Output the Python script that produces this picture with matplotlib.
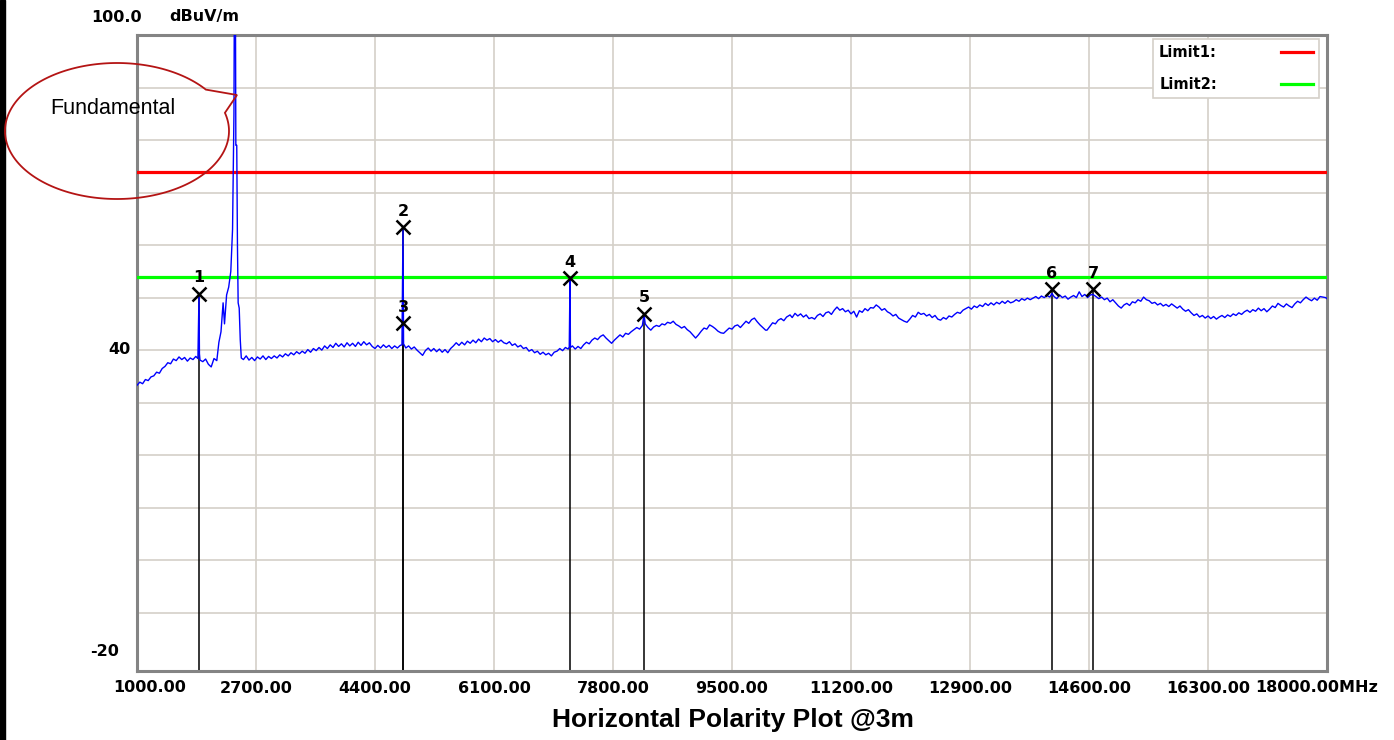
import numpy as np
import matplotlib
matplotlib.use('Agg')
import matplotlib.pyplot as plt
from matplotlib.patches import Polygon, Rectangle

# ---- data ----
limit1 = 74.0
limit2 = 54.0

trace_freq = [
    1000, 1040, 1080, 1120, 1160, 1200, 1240, 1280, 1320, 1360, 1400, 1440, 1480, 1520, 1560, 1600,
    1640, 1680, 1720, 1760, 1800, 1840, 1870, 1880, 1886, 1892, 1900, 1940, 1980, 2020, 2060, 2100,
    2140, 2170, 2200, 2230, 2250, 2280, 2310, 2340, 2365, 2385, 2392, 2405, 2412, 2425, 2435, 2445,
    2460, 2475, 2490, 2520, 2560, 2600, 2640, 2680, 2720, 2760, 2800, 2840, 2880, 2920, 2960, 3000,
    3040, 3080, 3120, 3160, 3200, 3240, 3280, 3320, 3360, 3400, 3440, 3480, 3520, 3560, 3600, 3640,
    3680, 3720, 3760, 3800, 3840, 3880, 3920, 3960, 4000, 4040, 4080, 4120, 4160, 4200, 4240, 4280,
    4320, 4360, 4400, 4440, 4480, 4520, 4560, 4600, 4640, 4680, 4720, 4760, 4785, 4792, 4800, 4808,
    4840, 4880, 4920, 4960, 5000, 5040, 5080, 5120, 5160, 5200, 5240, 5280, 5320, 5360, 5400, 5440,
    5480, 5520, 5560, 5600, 5640, 5680, 5720, 5760, 5800, 5840, 5880, 5920, 5960, 6000, 6040, 6080,
    6120, 6160, 6200, 6240, 6280, 6320, 6360, 6400, 6440, 6480, 6520, 6560, 6600, 6640, 6680, 6720,
    6760, 6800, 6840, 6880, 6920, 6960, 7000, 7040, 7080, 7120, 7160, 7175, 7180, 7186, 7192, 7220,
    7260, 7300, 7340, 7380, 7420, 7460, 7500, 7540, 7580, 7620, 7660, 7700, 7740, 7780, 7820, 7860,
    7900, 7940, 7980, 8020, 8060, 8100, 8140, 8180, 8220, 8243, 8260, 8300, 8340, 8380, 8420, 8460,
    8500, 8540, 8580, 8620, 8660, 8700, 8740, 8780, 8820, 8860, 8900, 8940, 8980, 9020, 9060, 9100,
    9140, 9180, 9220, 9260, 9300, 9340, 9380, 9420, 9460, 9500, 9540, 9580, 9620, 9660, 9700, 9740,
    9780, 9820, 9860, 9900, 9940, 9980, 10000, 10040, 10080, 10120, 10160, 10200, 10240, 10280, 10329, 10360,
    10400, 10440, 10480, 10520, 10560, 10600, 10640, 10680, 10720, 10760, 10800, 10840, 10880, 10920, 10960, 11000,
    11040, 11080, 11120, 11160, 11200, 11240, 11280, 11320, 11360, 11400, 11440, 11480, 11520, 11560, 11600, 11640,
    11680, 11720, 11760, 11800, 11840, 11880, 11920, 11960, 12000, 12040, 12080, 12120, 12160, 12200, 12240, 12280,
    12320, 12360, 12400, 12440, 12480, 12520, 12560, 12600, 12640, 12680, 12720, 12760, 12800, 12840, 12880, 12920,
    12960, 13000, 13040, 13080, 13120, 13160, 13200, 13240, 13280, 13320, 13360, 13400, 13440, 13480, 13520, 13560,
    13600, 13640, 13680, 13720, 13760, 13800, 13840, 13880, 13920, 13960, 14000, 14040, 14071, 14100, 14140, 14180,
    14220, 14260, 14300, 14340, 14380, 14420, 14460, 14500, 14540, 14580, 14620, 14657, 14700, 14740, 14780, 14820,
    14860, 14900, 14940, 14980, 15020, 15060, 15100, 15140, 15180, 15220, 15260, 15300, 15340, 15380, 15420, 15460,
    15500, 15540, 15580, 15620, 15660, 15700, 15740, 15780, 15820, 15860, 15900, 15940, 15980, 16020, 16060, 16100,
    16140, 16180, 16220, 16260, 16300, 16340, 16380, 16420, 16460, 16500, 16540, 16580, 16620, 16660, 16700, 16740,
    16780, 16820, 16860, 16900, 16940, 16980, 17020, 17060, 17100, 17140, 17180, 17220, 17260, 17300, 17340, 17380,
    17420, 17460, 17500, 17540, 17580, 17620, 17660, 17700, 17740, 17780, 17820, 17860, 17900, 17940, 17980, 18000,
]
trace_level = [
    33.3, 33.9, 33.6, 34.4, 34.2, 34.9, 35.1, 35.8, 35.6, 36.5, 36.9, 37.6, 37.4, 38.3, 38.0, 38.7,
    38.2, 38.6, 37.9, 38.5, 38.2, 38.8, 38.4, 46.0, 50.7, 39.3, 38.1, 37.8, 38.3, 37.3, 36.8, 38.4,
    38.0, 41.5, 43.5, 49.0, 45.0, 50.5, 52.0, 55.0, 63.0, 85.0, 112.0, 112.0, 79.0, 79.0, 60.0, 49.0,
    48.0, 42.0, 38.5, 38.2, 38.9, 38.1, 38.6, 38.0, 38.7, 38.3, 38.9, 38.2, 38.8, 38.4, 38.9, 38.5,
    39.1, 38.7, 39.3, 38.9, 39.5, 39.1, 39.7, 39.3, 39.8, 39.4, 40.1, 39.6, 40.3, 39.9, 40.5, 40.0,
    40.8, 40.3, 41.0, 40.5, 41.3, 40.7, 41.2, 40.6, 41.4, 40.8, 41.3, 40.7, 41.5, 40.9, 41.6, 41.0,
    41.4, 40.7, 40.3, 40.9, 40.4, 41.0, 40.5, 40.9, 40.3, 40.8, 40.4, 40.9, 41.0, 52.5, 63.4, 41.2,
    40.4, 40.8, 40.2, 40.6, 40.0, 39.5, 39.0, 39.9, 40.4, 39.8, 40.3, 39.7, 40.2, 39.6, 40.1, 39.5,
    40.3, 40.8, 41.4, 40.9, 41.5, 41.0, 41.7, 41.3, 41.9, 41.4, 42.1, 41.6, 42.3, 41.9, 42.2, 41.6,
    42.0, 41.5, 41.9, 41.4, 41.2, 41.6, 40.9, 41.2, 40.6, 40.9, 40.3, 40.5, 39.8, 40.1, 39.5, 39.8,
    39.2, 39.6, 39.1, 39.4, 38.9, 39.6, 39.8, 40.3, 39.9, 40.5, 40.2, 40.6, 46.8, 53.7, 40.5, 40.8,
    40.2, 40.7, 40.3, 41.0, 41.5, 41.2, 41.9, 42.3, 42.0, 42.6, 42.9, 42.3, 41.8, 41.3, 41.9, 42.4,
    42.9, 42.5, 43.2, 43.0, 43.5, 43.9, 44.3, 44.0, 44.7, 46.9, 45.0, 44.3, 43.8, 44.4, 44.7, 44.5,
    45.0, 44.8, 45.3, 45.1, 45.5, 44.9, 44.6, 44.2, 44.5, 43.9, 43.5, 42.9, 42.3, 42.9, 43.6, 44.2,
    44.0, 44.8, 44.5, 44.1, 43.6, 43.3, 43.2, 43.7, 44.2, 44.0, 44.6, 44.8, 44.3, 44.9, 45.5, 45.1,
    45.8, 46.1, 45.4, 44.8, 44.3, 43.8, 43.8, 44.5, 45.2, 45.0, 45.7, 46.0, 45.6, 46.3, 46.7, 46.2,
    47.0, 46.5, 46.9, 46.3, 46.7, 46.0, 46.2, 45.9, 46.6, 46.9, 46.4, 47.1, 47.3, 46.8, 47.6, 48.2,
    47.6, 47.9, 47.3, 47.6, 46.9, 47.4, 46.3, 47.5, 47.2, 47.9, 47.5, 48.1, 48.0, 48.6, 48.2, 47.6,
    47.9, 47.3, 47.0, 46.5, 46.8, 46.1, 45.8, 45.5, 45.3, 45.9, 46.6, 46.3, 47.2, 46.8, 47.0, 46.5,
    46.8, 46.2, 46.6, 45.9, 45.7, 46.2, 45.9, 46.5, 46.3, 46.8, 47.2, 47.0, 47.6, 47.9, 48.2, 47.8,
    48.4, 48.1, 48.6, 48.3, 48.9, 48.5, 49.0, 48.6, 49.1, 48.8, 49.3, 48.9, 49.4, 49.0, 49.2, 49.6,
    49.3, 49.8, 49.5, 49.9, 49.6, 49.9, 50.2, 49.8, 50.3, 50.0, 50.4, 50.1, 50.8, 50.2, 49.8, 50.5,
    50.0, 50.3, 49.7, 50.1, 50.4, 50.0, 51.1, 50.2, 50.6, 50.0, 50.5, 50.6, 50.2, 49.8, 50.1, 49.6,
    49.9, 49.2, 49.6, 49.0, 48.4, 48.0, 48.6, 48.9, 48.5, 49.2, 49.0, 49.6, 49.3, 50.1, 49.6, 49.4,
    48.9, 49.1, 48.6, 48.9, 48.4, 48.7, 48.3, 48.8, 48.4, 48.0, 48.4, 47.8, 47.4, 47.7, 47.1, 46.6,
    46.9, 46.3, 46.6, 46.1, 46.5, 46.0, 46.4, 45.9, 46.3, 46.6, 46.2, 46.7, 46.4, 46.9, 46.6, 47.1,
    46.8, 47.3, 47.6, 47.2, 47.7, 47.4, 48.0, 47.5, 47.9, 47.3, 47.8, 48.4, 48.1, 48.9, 48.5, 48.2,
    48.8, 48.4, 48.1, 48.8, 49.3, 49.0, 49.6, 50.1, 49.7, 49.4, 49.9, 49.5, 50.2, 50.1, 50.0, 49.8,
]

mk_freq = [1886, 4800, 4800, 7186, 8243, 14071, 14657]
mk_level = [50.7, 63.4, 45.1, 53.7, 46.9, 51.6, 51.6]
mk_label = ['1', '2', '3', '4', '5', '6', '7']

x_ticks = [1000, 2700, 4400, 6100, 7800, 9500, 11200, 12900, 14600, 16300, 18000]
x_ticklabels = ['', '2700.00', '4400.00', '6100.00', '7800.00', '9500.00',
                '11200.00', '12900.00', '14600.00', '16300.00', '']
y_grid = [-10, 0, 10, 20, 30, 40, 50, 60, 70, 80, 90, 100]

W, H = 1394, 740
fig = plt.figure(figsize=(W / 100, H / 100), dpi=100)
fig.patch.set_facecolor('white')

# main plot area (pixel box 137..1327 x 35..671)
ax = fig.add_axes([137 / W, 1 - 671 / H, 1190 / W, 636 / H])
ax.set_xlim(1000, 18000)
ax.set_ylim(-21.1, 100)
ax.set_xticks(x_ticks)
ax.set_xticklabels(x_ticklabels, fontsize=11.5, fontweight='bold')
ax.set_yticks(y_grid)
ax.set_yticklabels([])
ax.tick_params(length=0, pad=7)
ax.grid(True, color='#D4D0C8', linewidth=1.2)
ax.set_axisbelow(True)
for s in ax.spines.values():
    s.set_color('#848484')
    s.set_linewidth(2.2)

ax.axhline(limit1, color='#FF0000', linewidth=2.3, label='Limit1:', zorder=3)
ax.axhline(limit2, color='#00FF00', linewidth=2.3, label='Limit2:', zorder=3)

# marker stems
for f, lv in zip(mk_freq, mk_level):
    ax.plot([f, f], [-21.1, lv], color='black', linewidth=1.1, zorder=2)

ax.plot(trace_freq, trace_level, color='#0000FF', linewidth=1.0, zorder=4)

ax.plot(mk_freq, mk_level, linestyle='none', marker='x', color='black',
        markersize=9.5, markeredgewidth=1.8, zorder=5)
for f, lv, lb in zip(mk_freq, mk_level, mk_label):
    ax.annotate(lb, (f, lv), xytext=(0, 11.5), textcoords='offset points',
                ha='center', va='center', fontsize=11.5, fontweight='bold', zorder=6)

leg = ax.legend(loc='upper right', bbox_to_anchor=(1319 / W, 1 - 39 / H),
                bbox_transform=fig.transFigure, borderaxespad=0, markerfirst=False,
                fancybox=False, framealpha=1, edgecolor='#D4D0C8',
                prop={'weight': 'bold', 'size': 10.5}, handlelength=2.2,
                handletextpad=4.4, labelspacing=1.2, borderpad=0.4)
leg.get_frame().set_linewidth(1.2)

# overlay in figure pixels for the text labels and the callout
ov = fig.add_axes([0, 0, 1, 1])
ov.set_xlim(0, W)
ov.set_ylim(H, 0)
ov.axis('off')
ov.patch.set_alpha(0)

ov.add_patch(Rectangle((0, 0), 5, H, color='black'))

bold = dict(fontsize=11.5, fontweight='bold', va='center')
ov.text(142, 17, '100.0', ha='right', **bold)
ov.text(169, 17, 'dBuV/m', ha='left', **bold)
ov.text(131, 349, '40', ha='right', **bold)
ov.text(119, 652, '-20', ha='right', **bold)
ov.text(113, 687, '1000.00', ha='left', **bold)
ov.text(1378, 687, '18000.00MHz', ha='right', **bold)

arial = ['Liberation Sans', 'DejaVu Sans']
ov.text(733, 720, 'Horizontal Polarity Plot @3m', ha='center', va='center',
        fontsize=19, fontweight='bold', family=arial)

# speech-bubble callout
cx, cy, a, b = 117, 131, 112, 68
th = np.radians(np.linspace(-15.5, 322.5, 200))
pts = np.column_stack([cx + a * np.cos(th), cy + b * np.sin(th)])
pts = np.vstack([pts, [237, 95]])
ov.add_patch(Polygon(pts, closed=True, fill=False, edgecolor='#B41414', linewidth=1.3))
ov.text(113, 108, 'Fundamental', ha='center', va='center', fontsize=15.5, family=arial)

fig.savefig('out.png', dpi=100)
